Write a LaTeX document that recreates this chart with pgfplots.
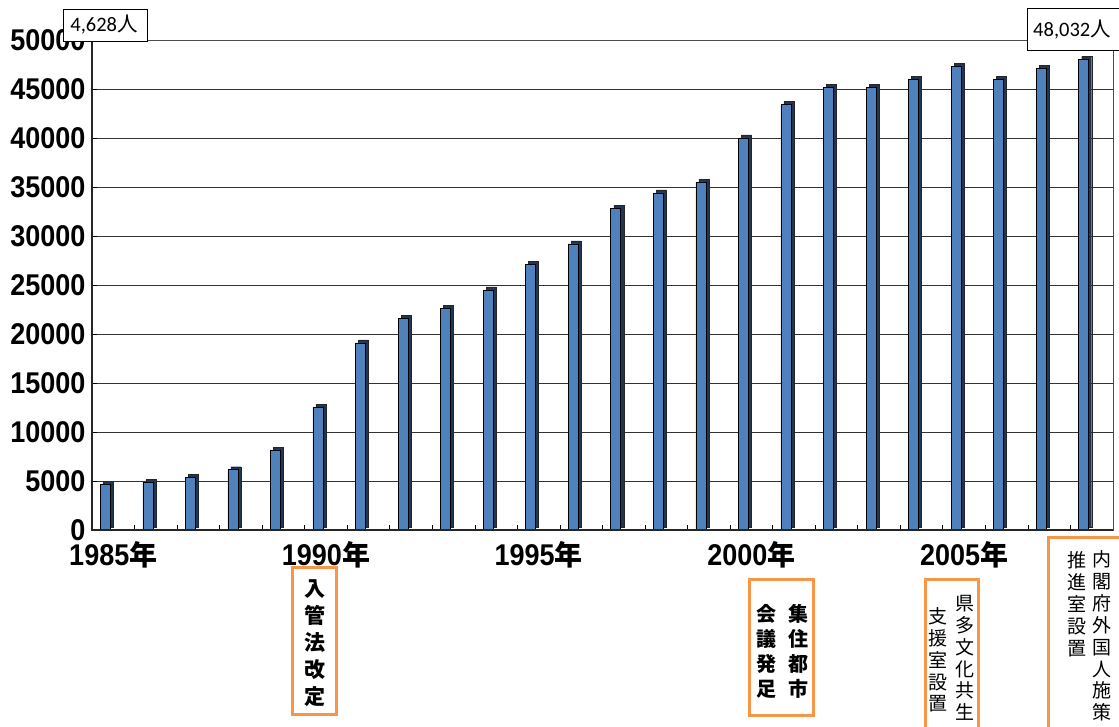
\documentclass[border=0pt]{standalone}
\usepackage{pgfplots}
\pgfplotsset{compat=1.18}
\usepackage{pgfplotstable}
\usepackage{fontspec}
\setmainfont{Liberation Sans}
\newfontfamily\numfont{Liberation Sans}[FakeStretch=0.9]
\newfontfamily\cjk{Noto Sans CJK JP}
\newfontfamily\calib{Carlito}
\definecolor{barblue}{HTML}{4F81BD}
\definecolor{barside}{HTML}{1F3654}
\definecolor{orng}{HTML}{F79646}
\pgfplotstableread{
year value
1985 4628
1986 4850
1987 5350
1988 6150
1989 8100
1990 12500
1991 19100
1992 21600
1993 22600
1994 24500
1995 27100
1996 29200
1997 32800
1998 34400
1999 35500
2000 40000
2001 43400
2002 45200
2003 45200
2004 46000
2005 47300
2006 46000
2007 47100
2008 48032
}\datatable
\begin{document}
\begin{tikzpicture}[x=1pt,y=1pt]
\begin{axis}[
  at={(92pt,197pt)}, anchor=south west,
  scale only axis, width=1021pt, height=490pt,
  xmin=1984.5, xmax=2008.5, ymin=0, ymax=50000,
  clip=false,
  axis line style={black!70, line width=0.9pt},
  ytick={0,5000,...,50000},
  scaled y ticks=false,
  yticklabel style={font=\fontsize{30}{30}\selectfont\numfont\bfseries, xshift=-3pt, /pgf/number format/.cd, fixed, 1000 sep={}, assume math mode=true},
  ymajorgrids, grid style={black!80, line width=0.8pt},
  ytick pos=left, xtick pos=bottom,
  tick align=inside, major tick length=5pt,
  tick style={black, line width=0.6pt},
  xtick={1985.5,1986.5,...,2007.5},
  xticklabels={},
  extra x ticks={1985,1990,1995,2000,2005},
  extra x tick labels={{{\numfont\bfseries 1985}{\cjk\bfseries\fontsize{28}{28}\selectfont 年}},{{\numfont\bfseries 1990}{\cjk\bfseries\fontsize{28}{28}\selectfont 年}},{{\numfont\bfseries 1995}{\cjk\bfseries\fontsize{28}{28}\selectfont 年}},{{\numfont\bfseries 2000}{\cjk\bfseries\fontsize{28}{28}\selectfont 年}},{{\numfont\bfseries 2005}{\cjk\bfseries\fontsize{28}{28}\selectfont 年}}},
  extra x tick style={tick style={draw=none}, grid=none},
  xticklabel style={font=\fontsize{30}{30}\selectfont, inner sep=1pt, yshift=-10pt},
]
\addplot[ybar, bar width=10pt, bar shift=-5pt, yshift=3pt, fill=barside, draw=black!85, line width=0.4pt] table[x=year,y=value] {\datatable};
\addplot[ybar, bar width=10pt, bar shift=-8pt, fill=barblue, draw=black, line width=0.6pt] table[x=year,y=value] {\datatable};
\end{axis}
% heavier left and bottom axis lines
\draw[black!85, line width=1.6pt] (92,687) -- (92,197) -- (1113,197);
% top value boxes
\draw[black, line width=0.8pt, fill=white] (63,718) rectangle (147,686);
\node[font=\fontsize{20.5}{20.5}\selectfont\calib, inner sep=0] at (104,702) {4,628{\cjk 人}};
\draw[black, line width=0.8pt, fill=white] (1027,719) rectangle (1135,677);
\node[font=\fontsize{20.5}{20.5}\selectfont\calib, inner sep=0] at (1072,697) {48,032{\cjk 人}};
% annotation boxes
\draw[orng, line width=3pt] (292,12) rectangle (336,159);
\node[align=center, inner sep=0, font=\fontsize{21}{27}\selectfont\cjk\bfseries] at (315,84) {入\\管\\法\\改\\定};
\draw[orng, line width=3pt] (749,11) rectangle (813,147);
\node[align=center, inner sep=0, font=\fontsize{20}{25}\selectfont\cjk\bfseries] at (798,76) {集\\住\\都\\市};
\node[align=center, inner sep=0, font=\fontsize{20}{25}\selectfont\cjk\bfseries] at (766,76) {会\\議\\発\\足};
\draw[orng, line width=3pt] (925,-10) -- (925,147) -- (978,147) -- (978,-10);
\node[align=center, inner sep=0, font=\fontsize{19}{21.8}\selectfont\cjk] at (965,69) {県\\多\\文\\化\\共\\生};
\node[align=center, inner sep=0, font=\fontsize{19}{21.8}\selectfont\cjk] at (938,67) {支\\援\\室\\設\\置};
\draw[orng, line width=3pt] (1048,-10) -- (1048,189) -- (1130,189);
\node[align=center, inner sep=0, font=\fontsize{19}{21.9}\selectfont\cjk] at (1102,91) {内\\閣\\府\\外\\国\\人\\施\\策};
\node[align=center, inner sep=0, font=\fontsize{19}{21.9}\selectfont\cjk] at (1077,123) {推\\進\\室\\設\\置};
\pgfresetboundingbox
\path[use as bounding box] (0,0) rectangle (1119,727);
\end{tikzpicture}
\end{document}
